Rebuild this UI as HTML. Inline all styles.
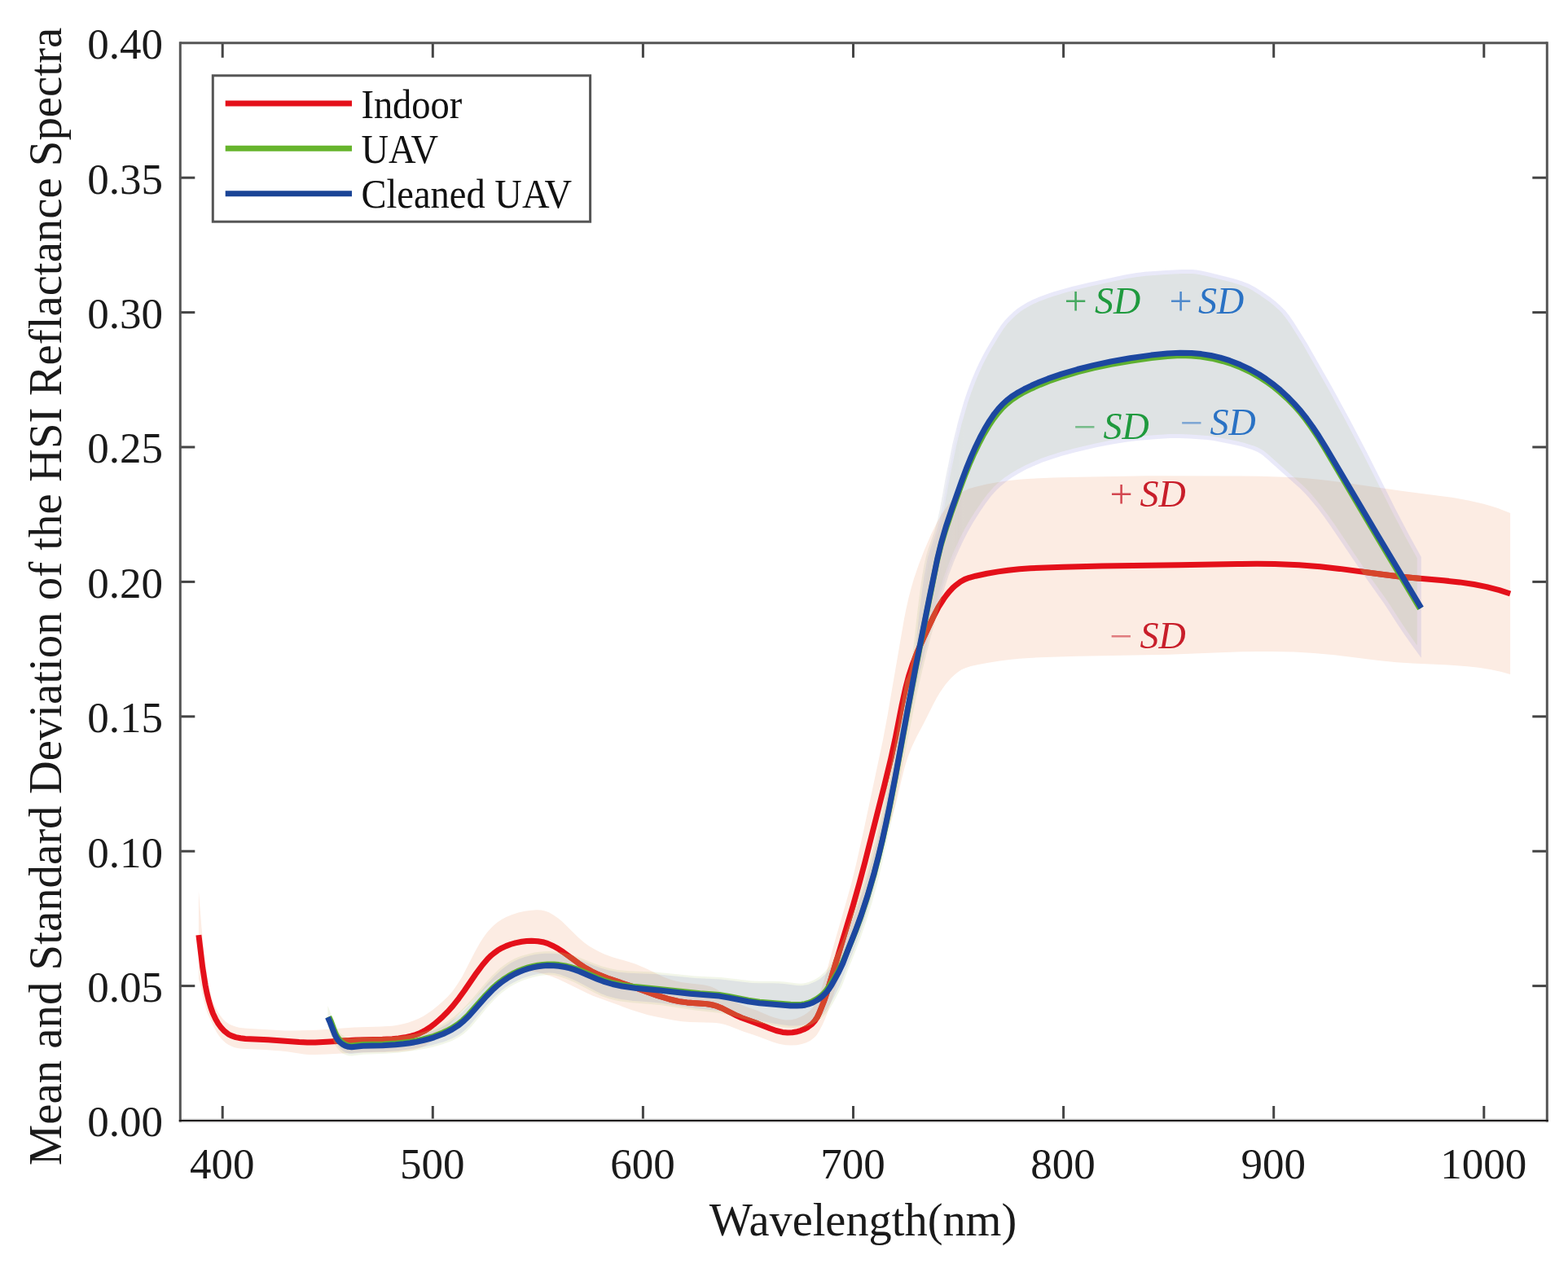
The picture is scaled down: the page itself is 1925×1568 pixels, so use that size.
<!DOCTYPE html>
<html><head><meta charset="utf-8"><title>HSI Reflectance Spectra</title>
<style>html,body{margin:0;padding:0;background:#fff;}svg{display:block;}</style>
</head><body>
<svg width="1925" height="1568" viewBox="0 0 1925 1568"><rect width="1925" height="1568" fill="#ffffff"/><polygon points="243.9,1094.1 247.4,1138.6 250.9,1173.2 252.9,1188.6 255.4,1204.7 257.4,1215.4 259.4,1223.5 262.4,1231.9 265.9,1239.5 269.9,1246.3 273.9,1251.4 277.4,1254.7 281.9,1257.7 287.4,1260.1 293.4,1261.7 297.4,1262.3 302.9,1262.8 349.9,1265.6 358.9,1265.6 388.9,1264.7 434.9,1261.6 467.9,1260.5 481.4,1259.7 487.9,1258.8 494.9,1257.3 500.9,1255.7 508.4,1253.1 513.9,1250.8 519.4,1247.9 524.4,1244.8 530.9,1240.2 537.4,1235.0 543.9,1229.3 549.4,1223.9 554.9,1217.9 560.9,1209.6 567.4,1199.2 582.9,1169.1 589.9,1156.6 593.9,1150.5 597.9,1145.1 601.9,1140.4 605.9,1136.4 610.9,1132.3 615.9,1129.0 621.4,1126.1 628.9,1123.0 636.4,1120.6 644.4,1118.8 650.4,1117.9 658.4,1117.2 664.4,1117.5 668.9,1118.4 673.9,1120.3 679.4,1123.4 684.9,1127.3 689.9,1131.3 709.9,1150.9 717.4,1157.5 722.9,1161.4 729.4,1165.3 735.4,1168.5 742.4,1171.7 751.9,1175.2 771.9,1180.9 780.4,1183.8 794.4,1189.8 814.4,1199.5 818.9,1201.3 823.9,1203.0 830.4,1204.8 837.4,1206.2 843.4,1207.0 863.4,1209.2 868.4,1210.2 872.9,1211.6 877.9,1213.7 882.9,1216.5 900.4,1228.4 907.4,1232.5 913.9,1235.3 929.9,1241.1 944.9,1247.4 950.9,1249.6 958.4,1251.6 964.4,1252.5 970.9,1252.2 976.9,1250.9 981.9,1249.1 986.4,1246.8 990.4,1244.2 994.9,1240.4 997.9,1237.2 1000.4,1233.7 1002.4,1230.0 1004.4,1225.5 1008.9,1212.6 1013.4,1198.1 1023.4,1161.1 1038.9,1107.3 1045.4,1083.9 1051.4,1059.5 1060.4,1019.2 1083.9,908.7 1089.4,879.4 1109.9,760.4 1112.4,747.9 1115.4,734.6 1118.4,722.9 1121.9,710.8 1127.9,693.2 1134.4,676.2 1143.4,655.5 1150.4,641.2 1156.4,630.8 1163.4,620.9 1166.9,616.6 1170.4,612.8 1174.4,609.1 1177.9,606.3 1180.9,604.3 1184.4,602.4 1189.9,600.1 1197.9,597.7 1211.4,594.5 1223.9,592.2 1237.4,590.2 1251.4,588.8 1265.4,587.8 1292.9,586.6 1324.9,585.7 1408.9,584.3 1517.4,584.5 1546.9,584.8 1568.9,585.4 1584.9,586.1 1600.9,587.1 1616.9,588.6 1632.4,590.3 1656.4,593.4 1720.4,602.7 1764.4,608.4 1783.9,611.1 1803.9,614.7 1821.4,618.8 1830.9,621.5 1838.9,624.1 1854.1,630.0 1854.1,828.0 1842.4,824.8 1829.4,822.0 1815.4,819.8 1801.4,818.2 1778.4,816.5 1734.4,814.5 1714.4,813.2 1692.4,810.9 1638.4,804.3 1612.9,801.9 1588.9,800.6 1561.4,799.9 1542.9,799.9 1523.4,800.3 1434.4,803.7 1322.9,805.7 1290.9,806.7 1263.4,807.9 1251.4,808.8 1239.4,810.0 1227.4,811.6 1211.9,814.1 1199.9,816.3 1191.9,818.0 1185.9,819.9 1180.9,822.1 1177.4,824.2 1174.4,826.4 1171.4,828.9 1167.4,832.7 1160.9,840.3 1154.4,849.5 1149.9,857.0 1145.4,865.4 1134.4,887.6 1124.9,905.6 1118.9,918.2 1114.4,930.0 1110.4,943.1 1106.9,956.9 1099.9,986.9 1095.4,1003.2 1092.9,1010.5 1086.9,1025.9 1084.4,1033.0 1061.9,1105.2 1057.4,1118.6 1045.9,1150.7 1023.9,1219.7 1015.4,1244.9 1012.9,1251.3 1009.4,1258.9 1005.4,1266.6 1002.4,1271.2 999.4,1274.3 994.9,1277.7 989.9,1280.3 984.4,1282.1 978.4,1283.2 970.9,1283.6 964.4,1283.2 956.4,1281.8 948.9,1279.6 930.4,1272.4 912.4,1266.5 895.9,1260.0 889.9,1258.1 884.4,1256.8 878.9,1256.0 874.9,1255.7 847.4,1254.9 837.4,1254.2 825.9,1252.4 803.4,1248.1 795.4,1246.3 775.9,1240.2 727.9,1222.7 720.9,1219.6 696.4,1207.4 684.9,1202.1 677.9,1199.3 668.4,1196.2 660.4,1194.1 653.9,1193.0 646.9,1192.7 642.4,1192.9 636.4,1193.5 630.4,1194.5 624.9,1195.9 619.9,1197.6 615.9,1199.2 610.9,1201.8 606.4,1204.7 600.4,1209.4 594.9,1214.3 577.4,1231.8 568.9,1239.8 547.9,1262.6 542.4,1268.2 537.4,1272.8 530.9,1278.2 524.4,1282.6 518.4,1285.7 511.9,1288.1 506.4,1289.4 500.9,1290.3 487.4,1291.4 471.4,1292.1 438.9,1292.5 401.4,1294.6 386.9,1295.0 379.4,1294.9 373.4,1294.4 352.4,1291.2 345.4,1290.4 325.4,1289.1 297.4,1287.8 291.4,1286.9 287.4,1285.9 283.9,1284.6 279.9,1282.5 276.9,1280.4 272.9,1276.8 269.9,1273.3 266.4,1268.3 262.4,1261.0 258.9,1252.9 255.4,1245.7 253.4,1240.6 250.4,1229.8 245.9,1209.0 243.9,1202.1" fill="#fcece3" stroke="none"/><polyline points="243.9,1148.1 248.7,1187.8 252.1,1209.6 254.0,1219.4 256.4,1229.1 258.7,1236.7 261.4,1244.2 264.8,1251.5 267.8,1256.7 271.4,1261.7 275.5,1266.1 280.3,1269.8 283.8,1271.6 289.5,1273.6 295.4,1274.8 301.3,1275.4 329.2,1276.8 367.3,1279.5 377.2,1279.9 387.1,1279.9 401.1,1279.3 437.1,1277.0 469.5,1276.3 481.5,1275.7 489.3,1274.9 497.1,1273.8 504.6,1272.1 510.2,1270.5 515.6,1268.4 519.2,1266.7 522.7,1264.8 527.8,1261.5 532.7,1257.8 539.1,1252.4 543.6,1248.3 549.4,1242.5 556.0,1235.1 563.3,1225.8 570.2,1216.3 584.9,1194.8 592.2,1185.0 598.8,1177.3 603.1,1173.1 606.1,1170.6 610.9,1167.1 616.0,1164.1 621.3,1161.6 626.9,1159.5 632.6,1157.9 640.5,1156.3 646.5,1155.6 652.5,1155.3 660.4,1155.7 666.3,1156.7 672.1,1158.4 679.5,1161.7 684.8,1164.6 691.5,1169.0 710.9,1183.3 717.5,1187.7 726.1,1192.6 735.0,1196.8 748.0,1201.9 778.5,1212.1 806.9,1222.4 822.1,1227.0 833.6,1229.6 843.4,1230.9 865.2,1232.4 871.1,1233.2 876.9,1234.5 880.8,1235.7 886.5,1238.0 904.9,1247.3 910.4,1249.8 930.3,1256.9 945.2,1262.8 952.8,1265.5 960.7,1267.4 966.7,1268.0 972.8,1267.7 978.8,1266.7 982.7,1265.6 986.5,1264.1 991.7,1261.3 996.4,1257.8 1000.3,1253.6 1003.4,1248.8 1005.9,1243.5 1011.3,1230.0 1015.3,1218.3 1046.8,1113.4 1055.0,1084.5 1061.7,1059.4 1085.2,966.3 1093.3,933.2 1098.9,907.8 1107.3,864.9 1111.6,845.5 1115.6,830.1 1120.6,814.9 1126.5,799.8 1134.7,781.2 1144.9,759.4 1152.2,745.4 1158.5,735.5 1162.0,730.7 1165.8,726.1 1169.9,721.7 1172.9,719.0 1179.2,714.3 1184.4,711.4 1190.0,709.3 1197.8,707.2 1211.7,704.3 1225.6,701.9 1237.5,700.2 1251.3,698.8 1265.2,697.8 1305.0,696.2 1353.0,695.1 1447.3,693.8 1519.2,692.5 1543.1,692.3 1565.1,692.6 1594.9,693.8 1620.8,695.8 1644.6,698.4 1696.4,705.3 1716.3,707.7 1734.3,709.5 1772.1,712.8 1791.9,714.9 1809.6,717.5 1825.2,720.6 1840.7,724.6 1854.1,729.0" fill="none" stroke="#e4101a" stroke-width="7" stroke-linejoin="round"/><defs><polygon id="uavp" points="402.4,1235.1 404.9,1241.2 409.9,1255.7 411.4,1259.2 413.4,1263.1 415.9,1266.9 418.9,1270.0 421.9,1272.1 425.9,1274.0 429.4,1274.8 431.9,1275.0 445.4,1273.8 467.9,1273.6 481.4,1273.0 491.4,1272.2 499.4,1271.3 507.4,1270.1 514.4,1268.5 520.9,1266.7 526.9,1264.7 532.9,1262.4 540.4,1259.0 544.4,1257.0 549.4,1254.0 558.4,1247.5 565.9,1241.0 573.4,1233.3 580.4,1225.4 595.9,1206.9 604.4,1197.7 613.4,1189.3 617.9,1185.7 622.9,1182.2 627.4,1179.4 631.9,1177.1 637.4,1174.8 642.9,1172.9 650.4,1170.9 656.4,1169.6 662.4,1168.7 667.9,1168.3 674.4,1168.1 681.9,1168.5 689.9,1169.6 697.4,1171.3 703.4,1173.0 709.4,1175.0 731.4,1183.7 738.9,1186.4 748.4,1189.1 757.9,1190.9 763.9,1191.6 771.9,1192.3 803.9,1193.5 853.4,1198.4 863.4,1199.1 884.9,1200.1 923.4,1204.5 932.4,1204.8 948.9,1204.7 956.4,1204.9 962.9,1205.4 978.4,1207.5 982.4,1207.7 986.4,1207.4 989.9,1206.8 993.4,1205.8 999.4,1203.3 1002.9,1201.3 1005.9,1199.3 1011.4,1194.6 1016.4,1188.9 1018.9,1185.3 1021.9,1180.3 1030.4,1164.1 1035.4,1152.6 1050.9,1110.6 1058.4,1088.5 1066.9,1060.3 1074.9,1029.8 1083.4,992.7 1091.4,952.9 1099.9,905.8 1111.9,835.0 1113.9,831.8 1115.4,827.8 1116.9,822.1 1118.4,814.7 1119.9,805.5 1121.9,790.8 1125.9,754.5 1129.4,726.1 1132.4,705.6 1134.9,691.9 1136.9,683.2 1138.9,676.0 1147.4,651.7 1150.9,639.2 1153.9,624.9 1160.9,586.5 1169.4,545.3 1176.4,517.0 1183.4,492.9 1187.9,479.7 1192.4,467.7 1197.4,455.8 1202.4,444.9 1207.9,434.2 1213.4,424.4 1222.9,408.7 1228.9,399.6 1233.4,393.8 1237.9,389.0 1243.9,383.3 1249.4,378.8 1254.4,375.4 1260.9,371.6 1267.9,368.1 1274.9,365.0 1282.9,362.0 1292.9,358.6 1303.4,355.4 1314.9,352.2 1336.9,347.0 1380.9,337.4 1393.9,335.2 1405.9,333.7 1431.4,331.9 1451.4,331.1 1463.9,331.1 1468.9,331.5 1473.9,332.3 1483.9,334.4 1513.9,341.9 1524.4,345.2 1533.4,348.7 1540.9,352.7 1550.4,358.8 1559.4,365.1 1566.4,370.6 1572.9,376.4 1578.4,382.1 1582.9,387.8 1587.9,394.9 1604.4,421.2 1635.9,476.6 1656.9,515.0 1678.9,557.1 1714.4,627.6 1729.9,656.9 1744.8,684.0 1744.8,807.7 1734.4,793.6 1723.4,778.0 1716.9,768.3 1699.9,741.9 1680.9,715.3 1669.9,699.5 1634.4,646.9 1625.4,634.2 1617.9,624.3 1606.4,610.4 1601.4,604.9 1596.4,600.0 1554.4,562.4 1549.4,558.3 1545.4,555.7 1541.4,553.7 1536.9,551.9 1527.4,548.9 1518.4,546.7 1489.9,540.9 1481.9,539.9 1460.9,538.4 1447.9,538.0 1436.4,538.1 1420.9,538.9 1398.9,540.7 1383.9,542.6 1363.9,545.7 1345.9,549.3 1320.4,555.3 1304.4,559.5 1290.4,563.9 1279.4,567.8 1269.4,572.0 1259.4,576.6 1250.4,581.4 1242.4,586.3 1235.4,591.2 1228.4,596.9 1222.9,602.2 1216.4,609.6 1209.9,618.2 1202.4,629.2 1194.4,642.0 1188.4,652.5 1182.9,663.2 1177.4,674.9 1171.9,687.6 1164.4,707.0 1157.9,727.6 1142.9,781.3 1132.9,820.6 1127.4,844.2 1122.4,867.5 1100.9,976.9 1093.4,1012.9 1079.4,1075.4 1075.4,1091.1 1070.4,1108.9 1063.4,1131.6 1055.9,1153.2 1050.4,1167.8 1041.4,1190.1 1035.4,1206.1 1032.9,1212.0 1025.9,1225.8 1021.9,1233.1 1018.9,1238.0 1016.4,1241.6 1013.4,1245.2 1009.9,1248.7 1006.4,1251.7 1001.4,1255.1 997.4,1257.3 993.4,1259.0 988.4,1260.6 983.9,1261.4 978.4,1262.0 972.4,1262.0 967.4,1261.7 950.9,1259.4 928.4,1255.2 918.4,1252.7 895.9,1246.4 882.9,1243.7 853.4,1240.4 811.9,1234.3 801.9,1233.3 775.9,1231.3 761.9,1229.5 754.4,1228.0 748.4,1226.5 743.9,1225.1 738.9,1223.2 729.9,1219.0 707.4,1207.2 701.4,1204.5 691.9,1200.8 686.4,1199.0 681.9,1197.8 677.9,1197.2 673.9,1197.1 667.9,1197.5 661.9,1198.3 655.9,1199.5 648.9,1201.4 642.9,1203.4 637.4,1205.7 631.9,1208.4 626.4,1211.5 621.4,1214.9 616.4,1218.8 611.9,1222.8 606.9,1227.6 598.4,1236.8 578.9,1260.2 573.9,1265.3 568.9,1269.7 562.4,1274.1 554.9,1277.9 549.4,1280.1 542.4,1282.5 530.9,1285.7 522.9,1287.4 511.4,1289.5 499.4,1291.3 489.9,1292.4 473.4,1293.7 445.9,1294.7 431.9,1296.4 427.9,1296.2 423.9,1295.0 420.4,1293.2 417.4,1290.8 414.4,1287.5 412.4,1284.5 410.4,1280.7 404.9,1266.5 402.4,1261.1"/><clipPath id="uavclip"><use href="#uavp"/></clipPath><linearGradient id="gUp" gradientUnits="userSpaceOnUse" x1="1120" y1="0" x2="1185" y2="0"><stop offset="0" stop-color="black"/><stop offset="1" stop-color="white"/></linearGradient><linearGradient id="gLow" gradientUnits="userSpaceOnUse" x1="1120" y1="0" x2="1185" y2="0"><stop offset="0" stop-color="white"/><stop offset="1" stop-color="black"/></linearGradient><mask id="upper" maskUnits="userSpaceOnUse" x="0" y="0" width="1925" height="1568"><rect x="0" y="0" width="1925" height="1568" fill="url(#gUp)"/></mask><mask id="lower" maskUnits="userSpaceOnUse" x="0" y="0" width="1925" height="1568"><rect x="0" y="0" width="1925" height="1568" fill="url(#gLow)"/></mask><mask id="inset5" maskUnits="userSpaceOnUse" x="0" y="0" width="1925" height="1568"><use href="#uavp" fill="white" stroke="black" stroke-width="10" stroke-linejoin="round"/></mask><mask id="inset2" maskUnits="userSpaceOnUse" x="0" y="0" width="1925" height="1568"><use href="#uavp" fill="white" stroke="black" stroke-width="5" stroke-linejoin="round"/></mask></defs><g mask="url(#upper)"><use href="#uavp" fill="rgb(120,120,220)" fill-opacity="0.16"/></g><g mask="url(#lower)"><use href="#uavp" fill="rgb(120,120,220)" fill-opacity="0.16" mask="url(#inset2)"/></g><g mask="url(#upper)"><use href="#uavp" fill="rgb(166,193,108)" fill-opacity="0.15" mask="url(#inset5)"/></g><g mask="url(#lower)"><use href="#uavp" fill="rgb(166,193,108)" fill-opacity="0.15"/></g><polyline clip-path="url(#uavclip)" points="243.9,1148.1 248.7,1187.8 252.1,1209.6 254.0,1219.4 256.4,1229.1 258.7,1236.7 261.4,1244.2 264.8,1251.5 267.8,1256.7 271.4,1261.7 275.5,1266.1 280.3,1269.8 283.8,1271.6 289.5,1273.6 295.4,1274.8 301.3,1275.4 329.2,1276.8 367.3,1279.5 377.2,1279.9 387.1,1279.9 401.1,1279.3 437.1,1277.0 469.5,1276.3 481.5,1275.7 489.3,1274.9 497.1,1273.8 504.6,1272.1 510.2,1270.5 515.6,1268.4 519.2,1266.7 522.7,1264.8 527.8,1261.5 532.7,1257.8 539.1,1252.4 543.6,1248.3 549.4,1242.5 556.0,1235.1 563.3,1225.8 570.2,1216.3 584.9,1194.8 592.2,1185.0 598.8,1177.3 603.1,1173.1 606.1,1170.6 610.9,1167.1 616.0,1164.1 621.3,1161.6 626.9,1159.5 632.6,1157.9 640.5,1156.3 646.5,1155.6 652.5,1155.3 660.4,1155.7 666.3,1156.7 672.1,1158.4 679.5,1161.7 684.8,1164.6 691.5,1169.0 710.9,1183.3 717.5,1187.7 726.1,1192.6 735.0,1196.8 748.0,1201.9 778.5,1212.1 806.9,1222.4 822.1,1227.0 833.6,1229.6 843.4,1230.9 865.2,1232.4 871.1,1233.2 876.9,1234.5 880.8,1235.7 886.5,1238.0 904.9,1247.3 910.4,1249.8 930.3,1256.9 945.2,1262.8 952.8,1265.5 960.7,1267.4 966.7,1268.0 972.8,1267.7 978.8,1266.7 982.7,1265.6 986.5,1264.1 991.7,1261.3 996.4,1257.8 1000.3,1253.6 1003.4,1248.8 1005.9,1243.5 1011.3,1230.0 1015.3,1218.3 1046.8,1113.4 1055.0,1084.5 1061.7,1059.4 1085.2,966.3 1093.3,933.2 1098.9,907.8 1107.3,864.9 1111.6,845.5 1115.6,830.1 1120.6,814.9 1126.5,799.8 1134.7,781.2 1144.9,759.4 1152.2,745.4 1158.5,735.5 1162.0,730.7 1165.8,726.1 1169.9,721.7 1172.9,719.0 1179.2,714.3 1184.4,711.4 1190.0,709.3 1197.8,707.2 1211.7,704.3 1225.6,701.9 1237.5,700.2 1251.3,698.8 1265.2,697.8 1305.0,696.2 1353.0,695.1 1447.3,693.8 1519.2,692.5 1543.1,692.3 1565.1,692.6 1594.9,693.8 1620.8,695.8 1644.6,698.4 1696.4,705.3 1716.3,707.7 1734.3,709.5 1772.1,712.8 1791.9,714.9 1809.6,717.5 1825.2,720.6 1840.7,724.6 1854.1,729.0" fill="none" stroke="#d6452b" stroke-width="7" stroke-linejoin="round"/><polyline points="403.8,1248.4 406.3,1253.9 411.2,1267.1 412.8,1270.6 414.7,1274.0 418.3,1278.4 421.2,1280.8 424.5,1282.6 428.0,1283.8 431.6,1284.1 445.5,1282.6 471.5,1282.0 487.4,1281.0 503.2,1279.2 511.0,1277.8 518.8,1276.1 532.3,1272.3 543.5,1268.0 548.9,1265.5 554.1,1262.7 562.2,1257.5 568.2,1252.6 575.1,1245.9 596.0,1222.1 604.5,1213.4 609.1,1209.3 613.8,1205.5 618.8,1201.9 624.0,1198.6 631.1,1194.6 636.7,1192.0 642.4,1189.8 648.2,1187.9 654.1,1186.4 660.0,1185.2 666.0,1184.4 672.1,1184.0 680.2,1184.1 686.2,1184.6 694.2,1185.9 700.1,1187.3 705.9,1189.1 711.6,1191.2 733.8,1200.8 741.2,1203.6 752.5,1207.0 764.1,1209.4 779.9,1211.6 811.9,1214.7 847.6,1218.6 859.4,1219.7 877.2,1220.9 883.2,1221.5 895.1,1223.5 918.8,1228.2 932.6,1230.2 970.5,1233.3 978.4,1233.5 984.1,1233.2 987.9,1232.6 991.5,1231.7 996.9,1229.7 1002.1,1226.9 1005.3,1224.7 1008.4,1222.2 1011.3,1219.5 1013.9,1216.6 1018.5,1210.3 1029.6,1191.4 1034.8,1180.9 1045.5,1155.5 1050.7,1142.5 1055.6,1129.3 1064.5,1102.6 1073.0,1073.7 1078.0,1054.3 1082.7,1034.9 1087.5,1013.5 1092.4,990.0 1099.6,952.8 1114.7,870.3 1123.3,825.1 1137.2,754.4 1150.2,689.9 1154.9,670.5 1160.6,651.3 1167.6,630.3 1179.2,598.3 1185.5,581.6 1190.7,568.8 1196.3,556.2 1202.3,543.8 1207.9,533.2 1214.0,522.9 1219.5,514.6 1225.5,506.8 1230.7,501.0 1236.3,495.8 1242.3,490.9 1248.7,486.6 1257.2,481.6 1266.1,477.2 1276.9,472.4 1287.9,468.0 1304.7,462.3 1323.6,456.7 1342.8,451.9 1364.3,447.4 1387.8,443.2 1413.6,439.5 1433.3,437.4 1449.1,436.6 1462.7,436.9 1474.4,438.0 1487.8,440.2 1501.1,443.5 1512.3,447.0 1523.3,451.3 1534.0,456.3 1546.1,463.1 1554.4,468.5 1564.1,475.5 1571.7,481.8 1580.6,489.8 1588.9,498.3 1596.8,507.3 1603.0,515.1 1609.9,524.7 1617.6,536.2 1626.9,551.4 1689.9,658.2 1743.3,747.4" fill="none" stroke="#5fb030" stroke-width="7" stroke-linejoin="round"/><polyline points="402.4,1249.1 404.8,1254.5 410.6,1269.6 412.4,1273.1 414.5,1276.5 417.2,1279.6 420.3,1282.1 423.9,1284.1 427.7,1285.3 431.6,1285.7 445.6,1284.2 469.6,1283.7 485.5,1282.8 495.5,1281.8 503.4,1280.7 511.3,1279.4 519.2,1277.7 527.0,1275.6 532.8,1273.8 544.2,1269.5 549.6,1266.9 554.9,1264.1 563.2,1258.7 569.2,1253.8 576.2,1247.0 597.2,1223.2 605.6,1214.6 610.1,1210.6 614.8,1206.8 619.7,1203.2 624.8,1199.9 631.8,1196.0 637.3,1193.5 642.9,1191.3 648.6,1189.4 654.4,1187.9 660.3,1186.8 666.2,1186.0 672.1,1185.6 680.1,1185.7 686.0,1186.2 693.8,1187.5 699.6,1188.8 705.3,1190.6 711.0,1192.7 733.2,1202.2 740.7,1205.1 752.1,1208.5 763.8,1211.0 779.7,1213.2 811.7,1216.3 847.5,1220.2 883.0,1223.1 894.8,1225.1 918.5,1229.8 932.4,1231.8 970.4,1234.9 978.4,1235.1 984.3,1234.7 988.2,1234.2 992.0,1233.2 997.6,1231.2 1002.9,1228.3 1006.3,1226.0 1009.5,1223.4 1012.4,1220.6 1015.2,1217.6 1017.6,1214.5 1020.9,1209.5 1029.6,1193.7 1034.7,1182.9 1041.6,1164.7 1050.4,1142.4 1057.3,1123.5 1065.4,1098.6 1073.2,1071.7 1078.2,1052.3 1082.9,1032.9 1087.6,1011.4 1092.1,990.0 1099.3,952.8 1114.8,868.3 1123.7,821.1 1140.8,734.7 1150.8,685.9 1155.5,666.5 1161.1,647.2 1168.7,624.3 1180.7,590.4 1186.2,575.6 1192.2,560.9 1197.8,548.2 1203.0,537.5 1208.7,526.8 1215.0,516.4 1220.7,508.1 1225.7,501.9 1231.1,496.0 1237.1,490.7 1241.8,487.0 1248.6,482.6 1257.4,477.7 1266.5,473.3 1275.6,469.2 1286.7,464.9 1303.6,459.1 1322.7,453.5 1342.1,448.6 1363.6,444.0 1387.3,439.8 1413.1,436.1 1433.1,434.0 1449.0,433.2 1462.9,433.5 1474.8,434.6 1486.6,436.5 1498.2,439.2 1509.6,442.7 1522.7,447.8 1533.5,452.9 1545.8,459.8 1554.2,465.3 1563.9,472.4 1571.7,478.8 1580.5,487.0 1588.9,495.6 1596.9,504.6 1604.3,514.0 1611.3,523.7 1619.0,535.3 1628.4,550.6 1691.4,657.3 1744.8,746.5" fill="none" stroke="#1c47a0" stroke-width="7" stroke-linejoin="round"/><g stroke="#444" stroke-width="3"><line x1="273.2" y1="1376.0" x2="273.2" y2="1358.0"/><line x1="273.2" y1="52.8" x2="273.2" y2="70.8"/><line x1="531.3" y1="1376.0" x2="531.3" y2="1358.0"/><line x1="531.3" y1="52.8" x2="531.3" y2="70.8"/><line x1="789.4" y1="1376.0" x2="789.4" y2="1358.0"/><line x1="789.4" y1="52.8" x2="789.4" y2="70.8"/><line x1="1047.5" y1="1376.0" x2="1047.5" y2="1358.0"/><line x1="1047.5" y1="52.8" x2="1047.5" y2="70.8"/><line x1="1305.6" y1="1376.0" x2="1305.6" y2="1358.0"/><line x1="1305.6" y1="52.8" x2="1305.6" y2="70.8"/><line x1="1563.7" y1="1376.0" x2="1563.7" y2="1358.0"/><line x1="1563.7" y1="52.8" x2="1563.7" y2="70.8"/><line x1="1821.8" y1="1376.0" x2="1821.8" y2="1358.0"/><line x1="1821.8" y1="52.8" x2="1821.8" y2="70.8"/><line x1="221.3" y1="1210.6" x2="239.3" y2="1210.6"/><line x1="1899.3" y1="1210.6" x2="1881.3" y2="1210.6"/><line x1="221.3" y1="1045.2" x2="239.3" y2="1045.2"/><line x1="1899.3" y1="1045.2" x2="1881.3" y2="1045.2"/><line x1="221.3" y1="879.8" x2="239.3" y2="879.8"/><line x1="1899.3" y1="879.8" x2="1881.3" y2="879.8"/><line x1="221.3" y1="714.4" x2="239.3" y2="714.4"/><line x1="1899.3" y1="714.4" x2="1881.3" y2="714.4"/><line x1="221.3" y1="549.0" x2="239.3" y2="549.0"/><line x1="1899.3" y1="549.0" x2="1881.3" y2="549.0"/><line x1="221.3" y1="383.6" x2="239.3" y2="383.6"/><line x1="1899.3" y1="383.6" x2="1881.3" y2="383.6"/><line x1="221.3" y1="218.2" x2="239.3" y2="218.2"/><line x1="1899.3" y1="218.2" x2="1881.3" y2="218.2"/></g><line x1="219.8" y1="1376.0" x2="1900.8" y2="1376.0" stroke="#d2d2d2" stroke-width="5"/><g stroke="#555" stroke-width="3" fill="none"><line x1="221.3" y1="52.8" x2="1899.3" y2="52.8"/><line x1="221.3" y1="51.3" x2="221.3" y2="1377.5"/><line x1="1899.3" y1="51.3" x2="1899.3" y2="1377.5"/></g><line x1="219.8" y1="1376.0" x2="1900.8" y2="1376.0" stroke="#1f1b1b" stroke-width="2"/><g font-family="'Liberation Serif','Times New Roman',serif" font-size="53" fill="#1a1a1a"><text x="200" y="1395.3" text-anchor="end">0.00</text><text x="200" y="1229.9" text-anchor="end">0.05</text><text x="200" y="1064.5" text-anchor="end">0.10</text><text x="200" y="899.1" text-anchor="end">0.15</text><text x="200" y="733.7" text-anchor="end">0.20</text><text x="200" y="568.3" text-anchor="end">0.25</text><text x="200" y="402.9" text-anchor="end">0.30</text><text x="200" y="237.5" text-anchor="end">0.35</text><text x="200" y="72.1" text-anchor="end">0.40</text><text x="272.7" y="1446.8" text-anchor="middle">400</text><text x="530.8" y="1446.8" text-anchor="middle">500</text><text x="788.9" y="1446.8" text-anchor="middle">600</text><text x="1047.0" y="1446.8" text-anchor="middle">700</text><text x="1305.1" y="1446.8" text-anchor="middle">800</text><text x="1563.2" y="1446.8" text-anchor="middle">900</text><text x="1821.3" y="1446.8" text-anchor="middle">1000</text></g><text font-family="'Liberation Serif','Times New Roman',serif" font-size="56.4" fill="#1a1a1a" x="1059.5" y="1516.5" text-anchor="middle">Wavelength(nm)</text><text font-family="'Liberation Serif','Times New Roman',serif" font-size="56.8" fill="#1a1a1a" transform="translate(75,732.5) rotate(-90)" text-anchor="middle">Mean and Standard Deviation of the HSI Reflactance Spectra</text><rect x="261.3" y="92.8" width="463.3" height="179.4" fill="#ffffff" stroke="#555" stroke-width="3"/><line x1="276.7" y1="127" x2="432" y2="127" stroke="#e4101a" stroke-width="7"/><line x1="276.7" y1="182.3" x2="432" y2="182.3" stroke="#66b42c" stroke-width="7"/><line x1="276.7" y1="237.7" x2="432" y2="237.7" stroke="#1a4496" stroke-width="7"/><g font-family="'Liberation Serif','Times New Roman',serif" font-size="50" fill="#111" transform="translate(443.4,0) scale(0.93,1)"><text x="0" y="144.6">Indoor</text><text x="0" y="200">UAV</text><text x="0" y="255.3">Cleaned UAV</text></g><text x="1306.5" y="386.8" fill="#1f9a3e" fill-opacity="0.8" font-family="'Liberation Serif','Times New Roman',serif" font-size="50">+</text><text x="1344" y="384.5" fill="#1f9a3e" font-family="'Liberation Serif','Times New Roman',serif" font-size="46" font-style="italic">SD</text><text x="1435.5" y="386.8" fill="#2a72c4" fill-opacity="0.8" font-family="'Liberation Serif','Times New Roman',serif" font-size="50">+</text><text x="1471" y="384.5" fill="#2a72c4" font-family="'Liberation Serif','Times New Roman',serif" font-size="46" font-style="italic">SD</text><text x="1317.5" y="541.3" fill="#1f9a3e" fill-opacity="0.55" font-family="'Liberation Serif','Times New Roman',serif" font-size="50">−</text><text x="1354.5" y="539" fill="#1f9a3e" font-family="'Liberation Serif','Times New Roman',serif" font-size="46" font-style="italic">SD</text><text x="1448.5" y="536.3" fill="#2a72c4" fill-opacity="0.55" font-family="'Liberation Serif','Times New Roman',serif" font-size="50">−</text><text x="1485.5" y="534" fill="#2a72c4" font-family="'Liberation Serif','Times New Roman',serif" font-size="46" font-style="italic">SD</text><text x="1362.5" y="624.3" fill="#c81e2a" fill-opacity="0.8" font-family="'Liberation Serif','Times New Roman',serif" font-size="50">+</text><text x="1399.5" y="622" fill="#c81e2a" font-family="'Liberation Serif','Times New Roman',serif" font-size="46" font-style="italic">SD</text><text x="1362.0" y="798.3" fill="#c81e2a" fill-opacity="0.55" font-family="'Liberation Serif','Times New Roman',serif" font-size="50">−</text><text x="1399.5" y="796" fill="#c81e2a" font-family="'Liberation Serif','Times New Roman',serif" font-size="46" font-style="italic">SD</text></svg>
</body></html>
